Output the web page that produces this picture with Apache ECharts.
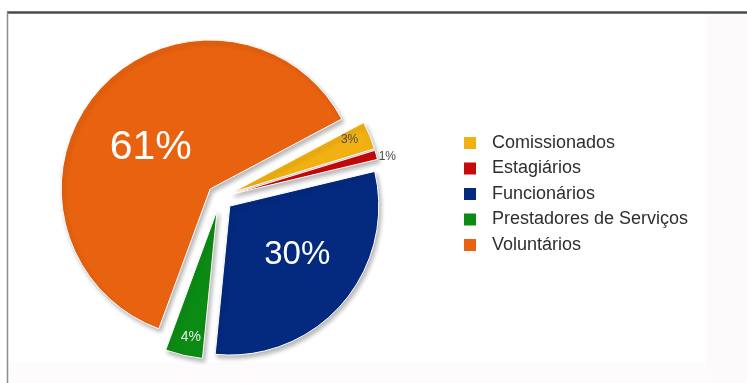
<!DOCTYPE html>
<html>
<head>
<meta charset="utf-8">
<script src="https://cdn.jsdelivr.net/npm/echarts@6/dist/echarts.min.js"></script>
<style>
  html, body { margin: 0; padding: 0; background: #ffffff; }
  #chart { width: 747px; height: 383px; }
</style>
</head>
<body>
<div id="chart"></div>
<script>
// Staff composition by category (percent)
const categories = ['Comissionados', 'Estagiários', 'Funcionários', 'Prestadores de Serviços', 'Voluntários'];
const values = [3, 1, 30, 4, 61];

const palette = ['#f1b112', '#c70a0c', '#042a80', '#0c8b14', '#e8620f'];
const FONT = "'Liberation Sans', Arial, sans-serif";

// label look per slice, plus a nudge away from the default inside spot
const labelLook = [
  { fontSize: 12, color: '#4a4a4a', dx: 46, dy: -23 },
  { fontSize: 12, color: '#4a4a4a', dx: 80, dy: -17 },
  { fontSize: 33, color: '#ffffff', dx: 9, dy: -2 },
  { fontSize: 14, color: '#e6f2e6', dx: -9, dy: 51 },
  { fontSize: 41, color: '#ffffff', dx: -1, dy: 10 }
];

const chart = echarts.init(document.getElementById('chart'), null, { renderer: 'canvas' });

const pieData = categories.map((name, i) => ({
  name: name,
  value: values[i],
  selected: true,
  itemStyle: { color: palette[i] },
  label: { fontSize: labelLook[i].fontSize, color: labelLook[i].color }
}));

const sliceStyle = {
  borderColor: '#ffffff',
  borderWidth: 1,
  shadowBlur: 4,
  shadowColor: 'rgba(0,0,0,0.28)',
  shadowOffsetX: 2,
  shadowOffsetY: 3
};

chart.setOption({
  animation: false,
  backgroundColor: '#ffffff',
  color: palette,
  graphic: [
    { type: 'rect', z: -10, shape: { x: 706, y: 14, width: 41, height: 369 }, style: { fill: '#fcfafa' } },
    { type: 'rect', z: -10, shape: { x: 8, y: 362, width: 698, height: 21 }, style: { fill: '#fdfbfb' } },
    { type: 'line', shape: { x1: 7, y1: 12.5, x2: 747, y2: 12.5 }, style: { stroke: '#4a4a4a', lineWidth: 2.5 } },
    { type: 'line', shape: { x1: 7.5, y1: 12, x2: 7.5, y2: 383 }, style: { stroke: '#8c8c8c', lineWidth: 1.5 } }
  ],
  legend: {
    orient: 'vertical',
    left: 457,
    top: 129,
    itemWidth: 14,
    itemHeight: 14,
    itemGap: 7.5,
    icon: 'rect',
    selectedMode: false,
    data: categories,
    textStyle: { fontFamily: FONT, fontSize: 18, color: '#2e2e2e', padding: [0, 0, 0, 10] }
  },
  series: [{
    type: 'pie',
    center: [220, 197.5],
    radius: [0, 149],
    startAngle: 28,
    clockwise: true,
    selectedMode: 'multiple',
    selectedOffset: 13,
    avoidLabelOverlap: false,
    silent: true,
    data: pieData,
    itemStyle: sliceStyle,
    select: { itemStyle: sliceStyle },
    label: {
      show: true,
      position: 'inside',
      fontFamily: FONT,
      formatter: '{c}%'
    },
    labelLine: { show: false },
    labelLayout: function (params) {
      const look = labelLook[params.dataIndex];
      return { dx: look.dx, dy: look.dy };
    }
  }]
});
</script>
</body>
</html>
